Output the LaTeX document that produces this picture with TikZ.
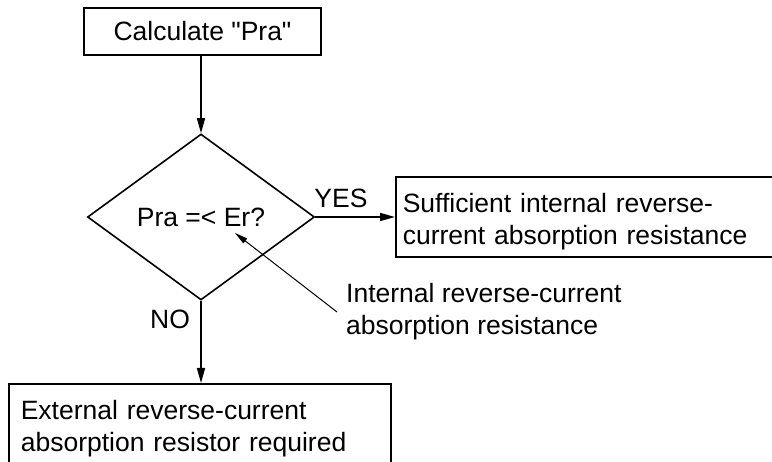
\documentclass[tikz,border=0pt]{standalone}
\usepackage{fontspec}
\setmainfont{Liberation Sans}
\usetikzlibrary{arrows.meta,shapes.geometric}
\begin{document}
\begin{tikzpicture}[x=1pt,y=-1pt,
  every node/.style={font=\fontsize{26.5}{32}\selectfont},
  box/.style={draw, line width=1.6pt, rectangle, inner sep=0pt},
  flow/.style={line width=1.6pt, -{Triangle[length=15pt,width=8pt]}},
  pointer/.style={line width=1pt, -{Triangle[length=13pt,width=6pt]}}]
\useasboundingbox (0,0) rectangle (772,462);
\clip (0,0) rectangle (772,462);

% process box
\node[box, minimum width=237pt, minimum height=47pt] (calc) at (202.5,31.5)
      {Calculate \textquotedbl Pra\textquotedbl};

% decision
\node[diamond, draw, line width=1.6pt, minimum width=227pt, minimum height=166pt, inner sep=0pt] (dec) at (201,217) {Pra =< Er?};

% outcome boxes (they run past the page edge)
\node[box, anchor=north west, text width=376pt, inner xsep=7pt, inner ysep=0pt,
      text height=29pt, minimum height=80pt, align=left] (yes) at (395,176)
      {Sufficient internal reverse-\\current absorption resistance};
\node[box, anchor=north west, text width=358pt, inner xsep=12pt, inner ysep=0pt,
      minimum height=90pt, align=left] (no) at (8,383)
      {External reverse-current\\absorption resistor required};

% connectors
\draw[flow] (calc.south -| dec.north) -- (dec.north);
\draw[flow] (dec.east) -- (dec.east -| yes.west);
\draw[flow] (dec.south) -- (dec.south |- no.north);

% branch labels
\node (yeslbl) at (341,198) {YES};
\node (nolbl) at (170,319) {NO};

% callout
\coordinate (ptail) at (337,312);
\coordinate (ptip) at (235,233);
\draw[pointer] (ptail) -- (ptip);
\node[anchor=base west, align=left, inner sep=0pt] (intlbl) at (346,335)
      {Internal reverse-current\\absorption resistance};
\end{tikzpicture}
\end{document}
